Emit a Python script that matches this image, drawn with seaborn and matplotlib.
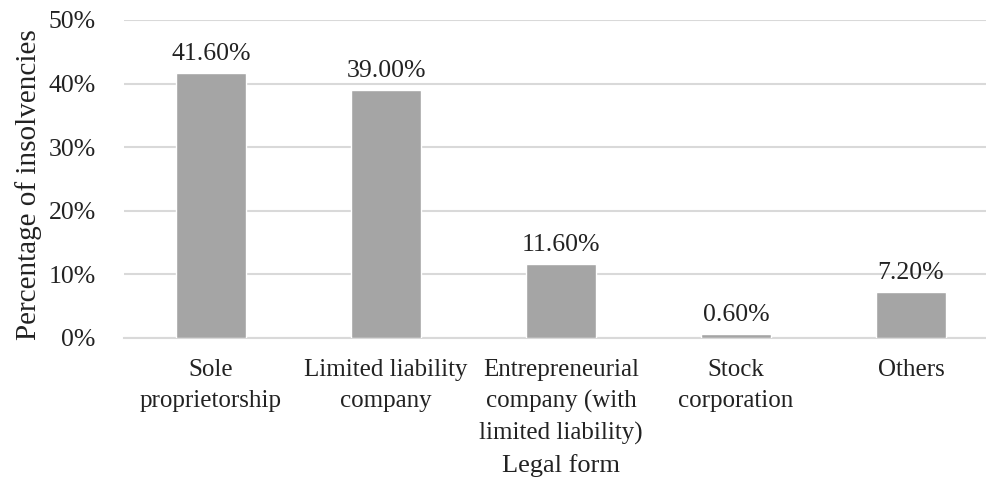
import matplotlib
matplotlib.use("Agg")
import matplotlib.pyplot as plt
import seaborn as sns
import pandas as pd
from matplotlib.ticker import PercentFormatter

# Share of insolvencies by legal form
categories = [
    "Sole\nproprietorship",
    "Limited liability\ncompany",
    "Entrepreneurial\ncompany (with\nlimited liability)",
    "Stock\ncorporation",
    "Others",
]
shares = [41.6, 39.0, 11.6, 0.6, 7.2]
y_ticks = [0, 10, 20, 30, 40, 50]

df = pd.DataFrame({"form": categories, "share": shares})

sns.set_theme(style="white")
plt.rcParams["font.family"] = ["Liberation Serif", "DejaVu Serif"]
plt.rcParams["text.color"] = "#222222"

fig = plt.figure(figsize=(9.86, 4.88), dpi=100)
ax = fig.add_axes([123.5 / 986, 150 / 488, 875 / 986, 318 / 488])

sns.barplot(data=df, x="form", y="share", color="#a5a5a5", width=0.4,
            saturation=1, ax=ax, zorder=3)

ax.set_ylim(0, 50)
ax.set_xlim(-0.5, len(categories) - 0.5)
ax.set_yticks(y_ticks)
ax.yaxis.set_major_formatter(PercentFormatter(decimals=0))
ax.grid(axis="y", color="#d9d9d9", linewidth=1.5, zorder=0)
ax.grid(axis="x", visible=False)
for side in ["top", "right", "left"]:
    ax.spines[side].set_visible(False)
ax.spines["bottom"].set_color("#d9d9d9")
ax.spines["bottom"].set_linewidth(1.5)

ax.tick_params(axis="y", length=0, pad=20, labelsize=18.5, labelcolor="#222222")
ax.tick_params(axis="x", length=0, pad=15, labelsize=18, labelcolor="#222222")
for lbl in ax.get_xticklabels():
    lbl.set_linespacing(1.52)

for i, v in enumerate(shares):
    ax.annotate(f"{v:.2f}%", (i, v), xytext=(0, 6), textcoords="offset points",
                ha="center", va="bottom", fontsize=18.5, color="#222222")

ax.set_xlabel("Legal form", fontsize=19, color="#222222")
ax.set_ylabel("Percentage of insolvencies", fontsize=21, color="#222222")
ax.xaxis.set_label_coords(0.5, -0.365)
ax.yaxis.set_label_coords(-0.093, 0.482)

fig.savefig("out.png", dpi=100)
